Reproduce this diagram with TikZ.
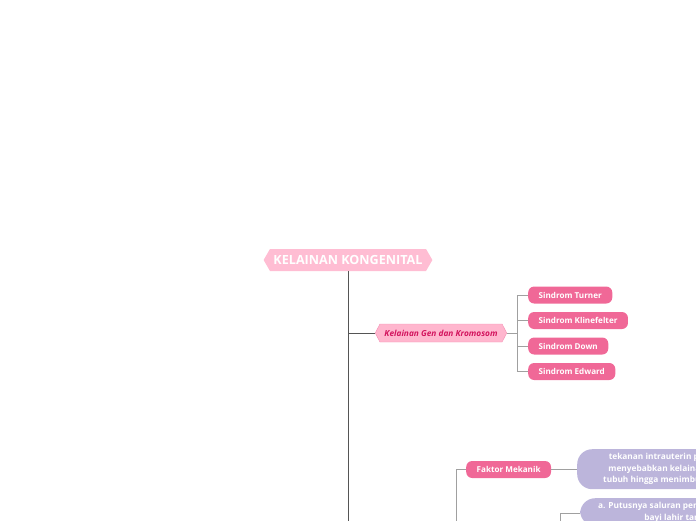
\documentclass[tikz,border=0pt]{standalone}
\usepackage{fontspec}
\setmainfont{Open Sans}
\usetikzlibrary{shapes.symbols,positioning,calc}
\definecolor{rootpink}{HTML}{FFBDD3}
\definecolor{genpink}{HTML}{FFB6CE}
\definecolor{genline}{HTML}{F590B4}
\definecolor{gentext}{HTML}{D3145E}
\definecolor{childpink}{HTML}{F06897}
\definecolor{lilac}{HTML}{BCB5DB}
\definecolor{trunk}{HTML}{555555}
\definecolor{twig}{HTML}{A0A0A0}

\begin{document}
\begin{tikzpicture}[x=1pt,y=-1pt,
  rootbox/.style={signal,signal to=west and east,signal pointer angle=120,fill=rootpink,text=white,font=\bfseries\fontsize{12.6}{14}\selectfont,minimum height=22pt,inner xsep=3.5pt,inner ysep=2pt},
  genbox/.style={signal,signal to=west and east,signal pointer angle=125,draw=genline,fill=genpink,text=gentext,font=\bfseries\itshape\fontsize{8.3}{9}\selectfont,minimum height=18pt,inner xsep=4.5pt,inner ysep=2pt},
  childbox/.style={rounded corners=6pt,fill=childpink,text=white,font=\bfseries\fontsize{8.1}{9}\selectfont,minimum height=17pt,inner xsep=10.5pt,inner ysep=2pt},
  notebox/.style={rounded corners=15pt,fill=lilac,text=white,font=\bfseries\fontsize{8.3}{11.5}\selectfont,align=center,inner xsep=26pt,inner ysep=4pt},
  trunkline/.style={draw=trunk,line width=0.9pt},
  twigline/.style={draw=twig,line width=0.8pt}]
\useasboundingbox (0,0) rectangle (696,520);
\clip (0,0) rectangle (696,520);

\node[rootbox] (root) at (348,260) {KELAINAN KONGENITAL};
\node[genbox] (gen) at (441,333) {Kelainan Gen dan Kromosom};
\node[childbox,anchor=west] (turner) at (528,295) {Sindrom Turner};
\node[childbox,anchor=west] (kline) at (528,320.5) {Sindrom Klinefelter};
\node[childbox,anchor=west] (down) at (528,346) {Sindrom Down};
\node[childbox,anchor=west] (edward) at (528,371.5) {Sindrom Edward};
\node[childbox,anchor=west] (mekanik) at (466,469.5) {Faktor Mekanik};
\node[notebox,anchor=north west,minimum height=40pt] (tekanan) at (577,449) {tekanan intrauterin pada janin\\menyebabkan kelainan bentuk\\tubuh hingga menimbulkan cacat};
\node[notebox,anchor=north west,inner xsep=18pt] (putus) at (580,498) {a. Putusnya saluran pencernaan pada janin\\bayi lahir tanpa anus};
\coordinate (low) at (348,530);
\coordinate (mekfoot) at (456,530);
\coordinate (putfoot) at (560,530);

% trunk and branches
\draw[trunkline] (root.south) -- (low);
\draw[trunkline,rounded corners=2pt] (root.south |- gen) -- (gen.west);
\draw[twigline] (gen.east) -- ++(10,0) coordinate (fork);
\draw[twigline] (fork |- turner) -- (fork |- edward);
\foreach \c in {turner,kline,down,edward} { \draw[twigline] (fork |- \c) -- (\c.west); }
\draw[twigline] (mekfoot) |- (mekanik.west);
\draw[twigline] (mekanik.east) -- (mekanik.east -| tekanan.west);
\draw[twigline] (putfoot) |- (putus.west |- 0,513);
\end{tikzpicture}
\end{document}
